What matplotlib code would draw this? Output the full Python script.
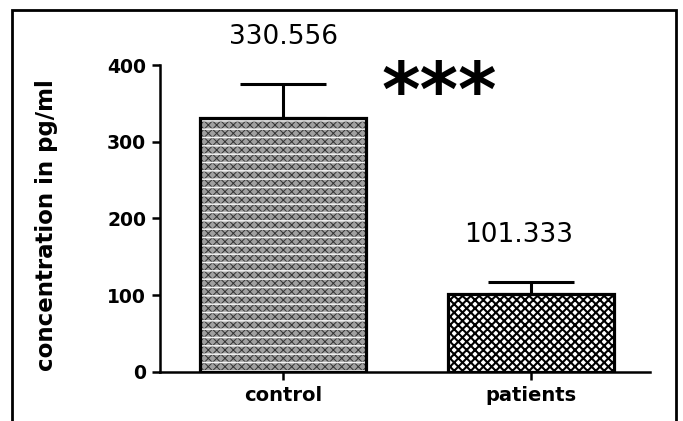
import matplotlib
matplotlib.use('Agg')
from matplotlib import pyplot as plt
from matplotlib.patches import Rectangle

# Значения.
groups = ['control', 'patients']
means = [330.556, 101.333]
errors_up = [45, 16]
mean_labels = ['330.556', '101.333']
y_ticks = [0, 100, 200, 300, 400]

fig = plt.figure(figsize=(6.83, 4.21), dpi=100)
ax = fig.add_axes([0.2343, 0.1164, 0.7174, 0.7292])

x = range(len(groups))
# Контрольная группа: мелкая серая текстура с белыми полосами.
with plt.rc_context({'hatch.linewidth': 0.7}):
    ax.bar(x[0], means[0], width=0.67, color='#a0a0a0', hatch='xxxx',
           edgecolor='#333333', linewidth=0, zorder=2)
with plt.rc_context({'hatch.linewidth': 1.1}):
    ax.bar(x[0], means[0], width=0.67, fill=False, hatch='--',
           edgecolor='#f4f4f4', linewidth=0, zorder=3)
# Пациенты: крупная шахматная текстура.
with plt.rc_context({'hatch.linewidth': 1.5}):
    ax.bar(x[1], means[1], width=0.67, color='white', hatch='xxxx',
           edgecolor='black', linewidth=0, zorder=2)
# Обводка столбцов и усы погрешностей только вверх.
ax.bar(x, means, width=0.67, fill=False, edgecolor='black', linewidth=2.3,
       yerr=[[0, 0], errors_up], capsize=31,
       error_kw=dict(elinewidth=2.2, capthick=2.2, ecolor='black'), zorder=4)

# Подписи средних значений (вторая немного сдвинута влево, как в оригинале).
label_shift = [0.0, -0.05]
for i, lab in enumerate(mean_labels):
    ax.text(i + label_shift[i], means[i] + errors_up[i] + 44, lab,
            ha='center', va='bottom', fontsize=19, family='DejaVu Sans')
ax.text(0.63, 360, '***', ha='center', va='center', fontsize=53,
        fontweight='bold', family='DejaVu Sans')

ax.set_xlim(-0.496, 1.48)
ax.set_ylim(0, 400)
ax.set_xticks(list(x))
ax.set_xticklabels(groups, fontsize=14, fontweight='bold')
ax.set_yticks(y_ticks)
ax.set_yticklabels([str(t) for t in y_ticks], fontsize=13.5, fontweight='bold')
ax.set_ylabel('concentration in pg/ml', fontsize=16.5, fontweight='bold')
ax.yaxis.set_label_coords(-0.208, 0.48)

for side in ['top', 'right']:
    ax.spines[side].set_visible(False)
for side in ['left', 'bottom']:
    ax.spines[side].set_linewidth(1.8)
ax.tick_params(axis='both', width=1.8, length=6, pad=4)

# Рамка вокруг рисунка (нижний край за пределами картинки).
fig.patches.append(Rectangle((12 / 683, -0.05), (676 - 12) / 683, 1.05 - 10 / 421,
                             transform=fig.transFigure, fill=False,
                             edgecolor='black', linewidth=2))

fig.savefig('out.png', dpi=100)
